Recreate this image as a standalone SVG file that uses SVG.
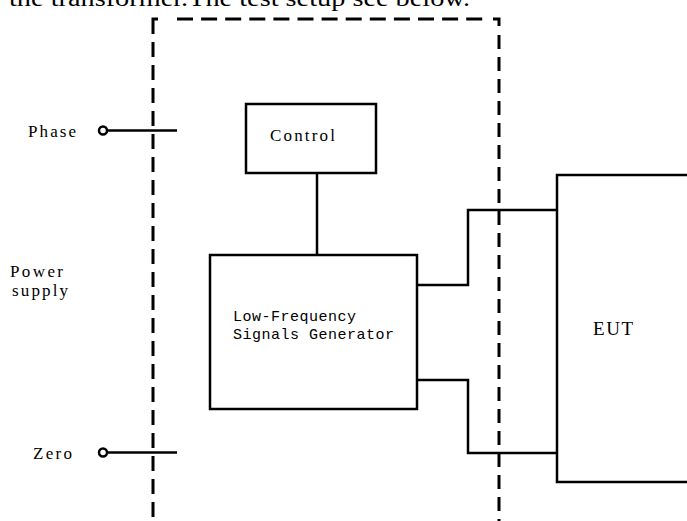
<svg xmlns="http://www.w3.org/2000/svg" width="687" height="521" viewBox="0 0 687 521">
<style>
.box{fill:#fff;stroke:#000;stroke-width:2.5}
.wire{fill:none;stroke:#000;stroke-width:2.5}
.dash{fill:none;stroke:#000;stroke-width:3}
.term{fill:#fff;stroke:#000;stroke-width:2.5}
.lbl{font-family:"Liberation Serif","Times New Roman",serif;font-size:17px;fill:#000}
.mono{font-family:"Liberation Mono","Courier New",monospace;font-size:15px;fill:#000;letter-spacing:0.5px}
.top{font-family:"Liberation Serif","Times New Roman",serif;font-size:24px;fill:#000}
</style>
<rect width="687" height="521" fill="#fff"/>
<text class="top" x="9" y="6" textLength="461" lengthAdjust="spacingAndGlyphs">the transformer.The test setup see below.</text>
<g id="boundary">
<path class="dash" d="M158,19 H153 V34"/>
<path class="dash" d="M153,42 V521" stroke-dasharray="15 8"/>
<path class="dash" d="M177,19 H490" stroke-dasharray="16 8.1"/>
<path class="dash" d="M493,19 H499 V26"/>
<path class="dash" d="M499,35 V521" stroke-dasharray="14 8"/>
</g>
<g id="connectors">
<line class="wire" x1="107" y1="130.5" x2="177" y2="130.5"/>
<line class="wire" x1="107" y1="452.5" x2="177" y2="452.5"/>
<line class="wire" x1="317" y1="173" x2="317" y2="255"/>
<path class="wire" d="M417,285 H468 V210 H557"/>
<path class="wire" d="M417,380 H468 V453 H557"/>
</g>
<g id="phase">
<circle class="term" cx="103" cy="130.5" r="4"/>
<text class="lbl" x="28" y="137" textLength="48" lengthAdjust="spacing">Phase</text>
</g>
<g id="zero">
<circle class="term" cx="103" cy="452.5" r="4"/>
<text class="lbl" x="33" y="459" textLength="39" lengthAdjust="spacing">Zero</text>
</g>
<g id="power-supply">
<text class="lbl" x="10" y="277" textLength="53" lengthAdjust="spacing">Power</text>
<text class="lbl" x="12" y="296" textLength="56" lengthAdjust="spacing">supply</text>
</g>
<g id="control">
<rect class="box" x="246" y="104" width="130" height="69"/>
<text class="lbl" x="270" y="141" textLength="65" lengthAdjust="spacing">Control</text>
</g>
<g id="generator">
<rect class="box" x="210" y="255" width="207" height="154"/>
<text class="mono" x="233" y="321">Low-Frequency</text>
<text class="mono" x="233" y="339">Signals Generator</text>
</g>
<g id="eut">
<rect class="box" x="557" y="175" width="200" height="307" stroke-width="2"/>
<text class="lbl" x="593" y="335" style="font-size:19px" textLength="40" lengthAdjust="spacing">EUT</text>
</g>
</svg>
